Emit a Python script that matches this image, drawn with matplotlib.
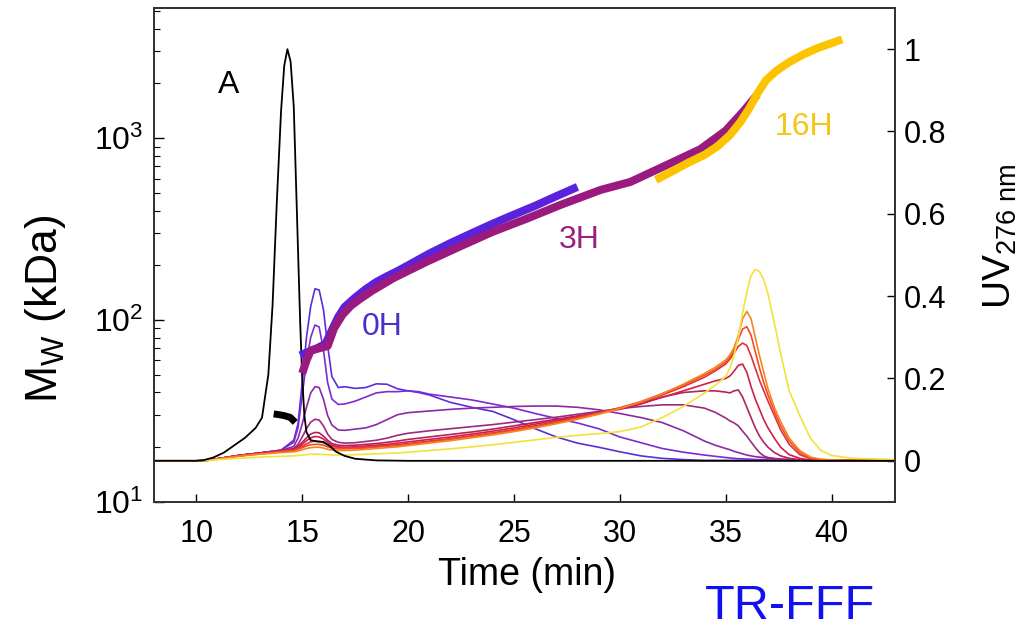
import matplotlib as mpl
mpl.use('Agg')
import matplotlib.pyplot as plt

plt.rcParams['font.family'] = ['Liberation Sans', 'DejaVu Sans']
plt.rcParams['mathtext.fontset'] = 'custom'
plt.rcParams['mathtext.rm'] = 'Liberation Sans'
plt.rcParams['mathtext.it'] = 'Liberation Sans'
plt.rcParams['mathtext.bf'] = 'Liberation Sans'

# ---- UV traces (normalised), common time grid (min)
t_uv = [8, 10, 10.5, 11, 12, 13, 14, 14.6, 14.8, 15.0, 15.2, 15.4, 15.6, 15.8, 16.0, 16.2, 16.4,
        16.7, 17.0, 17.5, 18.0, 18.5, 19.0, 19.5, 20.0, 20.5, 21, 22, 23, 24, 25, 26, 27, 28, 29,
        30, 31, 32, 33, 34, 34.5, 35.0, 35.2, 35.4, 35.6, 35.8, 36.0, 36.2, 36.4, 36.6, 36.8,
        37.0, 37.3, 37.6, 38.0, 38.5, 39, 39.5, 40, 41, 43]

uv_0h = [0, 0, 0.001, 0.005, 0.013, 0.019, 0.026, 0.05, 0.09, 0.19, 0.30, 0.375, 0.418, 0.415, 0.368, 0.28, 0.205,
         0.178, 0.18, 0.176, 0.178, 0.187, 0.186, 0.175, 0.17, 0.166, 0.16, 0.142, 0.13, 0.12, 0.10, 0.078, 0.058, 0.043, 0.033,
         0.022, 0.012, 0.006, 0.003, 0.001, 0.001, 0.001, 0.001, 0.001, 0.001, 0.001, 0.001, 0.001, 0.001, 0.001, 0.001,
         0.001, 0.001, 0.001, 0.001, 0.001, 0.001, 0.001, 0.001, 0.001, 0.001]
uv_1 = [0, 0, 0.001, 0.005, 0.013, 0.019, 0.026, 0.045, 0.08, 0.16, 0.24, 0.30, 0.33, 0.325, 0.27, 0.19, 0.15,
        0.137, 0.138, 0.145, 0.155, 0.165, 0.168, 0.168, 0.17, 0.168, 0.162, 0.155, 0.148, 0.138, 0.128, 0.115, 0.103, 0.092, 0.078,
        0.058, 0.044, 0.03, 0.021, 0.014, 0.011, 0.008, 0.007, 0.006, 0.005, 0.005, 0.004, 0.004, 0.003, 0.003, 0.003,
        0.002, 0.002, 0.002, 0.001, 0.001, 0.001, 0.001, 0.001, 0.001, 0.001]
uv_2 = [0, 0, 0.001, 0.005, 0.013, 0.019, 0.025, 0.035, 0.055, 0.09, 0.13, 0.165, 0.18, 0.178, 0.15, 0.11, 0.087,
        0.075, 0.074, 0.077, 0.08, 0.088, 0.10, 0.112, 0.117, 0.119, 0.121, 0.125, 0.128, 0.13, 0.132, 0.133, 0.133, 0.13, 0.124,
        0.115, 0.105, 0.093, 0.073, 0.048, 0.038, 0.03, 0.027, 0.023, 0.02, 0.017, 0.014, 0.012, 0.01, 0.009, 0.008,
        0.006, 0.005, 0.004, 0.003, 0.002, 0.001, 0.001, 0.001, 0.001, 0.001]
uv_3h = [0, 0, 0.001, 0.005, 0.013, 0.019, 0.025, 0.03, 0.04, 0.058, 0.078, 0.094, 0.101, 0.099, 0.085, 0.065, 0.052,
         0.045, 0.043, 0.044, 0.047, 0.05, 0.055, 0.062, 0.067, 0.07, 0.073, 0.078, 0.083, 0.088, 0.094, 0.10, 0.106, 0.113, 0.12,
         0.127, 0.132, 0.136, 0.136, 0.128, 0.118, 0.104, 0.097, 0.092, 0.085, 0.072, 0.06, 0.046, 0.032, 0.02, 0.012,
         0.008, 0.006, 0.004, 0.003, 0.002, 0.001, 0.001, 0.001, 0.001, 0.001]
uv_4 = [0, 0, 0.001, 0.005, 0.013, 0.019, 0.024, 0.028, 0.035, 0.045, 0.056, 0.065, 0.069, 0.068, 0.06, 0.05, 0.042,
        0.038, 0.037, 0.038, 0.04, 0.042, 0.045, 0.048, 0.052, 0.055, 0.058, 0.064, 0.07, 0.077, 0.085, 0.093, 0.101, 0.109, 0.117,
        0.125, 0.138, 0.155, 0.166, 0.17, 0.17, 0.167, 0.165, 0.17, 0.172, 0.155, 0.13, 0.105, 0.08, 0.06, 0.045,
        0.033, 0.02, 0.012, 0.006, 0.003, 0.001, 0.001, 0.001, 0.001, 0.001]
uv_5 = [0, 0, 0.001, 0.005, 0.012, 0.018, 0.024, 0.027, 0.032, 0.04, 0.049, 0.056, 0.059, 0.058, 0.053, 0.045, 0.038,
        0.034, 0.033, 0.034, 0.036, 0.038, 0.04, 0.043, 0.046, 0.049, 0.052, 0.058, 0.065, 0.072, 0.08, 0.089, 0.098, 0.107, 0.117,
        0.128, 0.14, 0.154, 0.17, 0.186, 0.194, 0.20, 0.206, 0.218, 0.232, 0.235, 0.215, 0.18, 0.15, 0.125, 0.10,
        0.08, 0.055, 0.033, 0.015, 0.006, 0.002, 0.001, 0.001, 0.001, 0.001]
uv_6 = [0, 0, 0.001, 0.005, 0.012, 0.018, 0.023, 0.026, 0.03, 0.035, 0.041, 0.046, 0.048, 0.047, 0.044, 0.039, 0.035,
        0.032, 0.031, 0.032, 0.033, 0.035, 0.037, 0.039, 0.042, 0.045, 0.048, 0.054, 0.061, 0.068, 0.076, 0.085, 0.095, 0.105, 0.116,
        0.128, 0.142, 0.16, 0.18, 0.203, 0.218, 0.235, 0.247, 0.262, 0.278, 0.286, 0.28, 0.255, 0.225, 0.195, 0.17,
        0.145, 0.11, 0.075, 0.04, 0.015, 0.005, 0.002, 0.001, 0.001, 0.001]
uv_7 = [0, 0, 0.001, 0.005, 0.012, 0.017, 0.022, 0.025, 0.028, 0.032, 0.036, 0.039, 0.04, 0.04, 0.038, 0.034, 0.031,
        0.029, 0.029, 0.03, 0.031, 0.033, 0.035, 0.037, 0.04, 0.043, 0.046, 0.052, 0.059, 0.066, 0.074, 0.083, 0.093, 0.104, 0.116,
        0.129, 0.144, 0.163, 0.184, 0.208, 0.222, 0.24, 0.252, 0.27, 0.295, 0.32, 0.326, 0.305, 0.265, 0.225, 0.19,
        0.16, 0.12, 0.085, 0.048, 0.02, 0.007, 0.003, 0.002, 0.001, 0.001]
uv_8 = [0, 0, 0.001, 0.004, 0.011, 0.016, 0.02, 0.022, 0.024, 0.027, 0.03, 0.032, 0.033, 0.033, 0.031, 0.028, 0.026,
        0.025, 0.025, 0.026, 0.028, 0.03, 0.032, 0.034, 0.037, 0.04, 0.043, 0.049, 0.056, 0.063, 0.071, 0.08, 0.09, 0.101, 0.113,
        0.127, 0.143, 0.163, 0.186, 0.212, 0.227, 0.245, 0.257, 0.275, 0.305, 0.345, 0.363, 0.345, 0.30, 0.255, 0.215,
        0.175, 0.13, 0.095, 0.055, 0.025, 0.009, 0.004, 0.002, 0.001, 0.001]
uv_16h = [0, 0, 0, 0.003, 0.006, 0.009, 0.011, 0.012, 0.013, 0.014, 0.015, 0.016, 0.016, 0.016, 0.015, 0.015, 0.014,
          0.014, 0.014, 0.015, 0.016, 0.017, 0.018, 0.019, 0.021, 0.023, 0.025, 0.029, 0.034, 0.039, 0.045, 0.051, 0.057, 0.062, 0.066,
          0.071, 0.082, 0.105, 0.132, 0.165, 0.183, 0.205, 0.225, 0.258, 0.30, 0.36, 0.41, 0.45, 0.465, 0.46, 0.44,
          0.405, 0.335, 0.26, 0.17, 0.11, 0.055, 0.025, 0.013, 0.006, 0.003]

uv_series = [uv_0h, uv_1, uv_2, uv_3h, uv_4, uv_5, uv_6, uv_7, uv_8, uv_16h]
uv_colors = ['#5a2fd8', '#7b2bd2', '#8c2aa6', '#9c2a82', '#b3215e', '#cf1f48', '#e4303a',
             '#f04c28', '#f7841f', '#f2e23a']

# ---- sample A (black)
t_a = [8, 10, 10.3, 10.8, 11.3, 11.8, 12.3, 12.8, 13.1, 13.4, 13.6, 13.8, 14.0, 14.15, 14.3, 14.45,
       14.6, 14.75, 14.9, 15.0, 15.1, 15.2, 15.4, 15.7, 16.0, 16.3, 16.6, 17.0, 17.5, 18.5, 20, 43]
uv_a = [0, 0, 0.001, 0.008, 0.02, 0.038, 0.056, 0.08, 0.105, 0.21, 0.38, 0.63, 0.85, 0.96, 1.0, 0.97,
        0.86, 0.60, 0.34, 0.20, 0.11, 0.07, 0.05, 0.047, 0.046, 0.036, 0.022, 0.012, 0.005, 0.001, 0, 0]
t_mw_a = [13.65, 13.9, 14.12, 14.43, 14.67]
mw_a = [30.5, 30.2, 29.9, 29.2, 27.4]

# ---- molar mass (kDa)
t_mw_0h = [14.9, 15.3, 15.7, 16.1, 16.4, 16.7, 17.0, 17.5, 18.0, 18.5, 19.0, 19.5, 20, 21, 22, 23, 24, 25, 26, 27, 28]
mw_0h = [64, 67, 70, 74, 88, 104, 118, 133, 148, 162, 174, 186, 200, 232, 265, 300, 339, 380, 425, 480, 540]
t_mw_3h = [15.0, 15.2, 15.4, 15.8, 16.2, 16.5, 16.9, 17.3, 17.7, 18.3, 19.3, 20.9, 22.45, 24.0, 25.6, 27.2,
           29.1, 30.5, 32.2, 33.8, 35.0, 35.8, 36.5]
mw_3h = [51, 60, 68, 70, 72, 90, 107, 120, 130, 145, 170, 210, 254, 306, 361, 430, 520, 575, 711, 870, 1100, 1390, 1740]
t_mw_16h = [31.7, 32.5, 33.3, 34.0, 34.6, 35.2, 35.7, 36.1, 36.5, 36.9, 37.4, 38.0, 38.7, 39.4, 40.0, 40.5]
mw_16h = [590, 660, 740, 810, 900, 1040, 1230, 1450, 1760, 2080, 2350, 2620, 2900, 3150, 3330, 3500]

fig = plt.figure(figsize=(10.29, 6.30), dpi=100)
ax = fig.add_axes([0.1497, 0.2032, 0.7201, 0.7841])
ax2 = ax.twinx()

for vals, c in zip(uv_series, uv_colors):
    ax2.plot(t_uv, vals, color=c, lw=1.2)
ax2.plot(t_a, uv_a, color='black', lw=1.3)
ax2.set_ylim(-0.1, 1.1)
ax2.set_yticks([0, 0.2, 0.4, 0.6, 0.8, 1])
ax2.set_yticklabels(['0', '0.2', '0.4', '0.6', '0.8', '1'])

ax.plot(t_mw_0h, mw_0h, color='#5a22dc', lw=5.8, solid_capstyle='butt')
ax.plot(t_mw_3h, mw_3h, color='#9a1a80', lw=5.8, solid_capstyle='butt')
ax.plot(t_mw_16h, mw_16h, color='#fcc400', lw=5.8, solid_capstyle='butt')
ax.plot(t_mw_a, mw_a, color='black', lw=5, solid_capstyle='butt')
ax.set_yscale('log')
ax.set_ylim(10, 5200)
ax.set_xlim(8, 43)
ax.set_xticks([10, 15, 20, 25, 30, 35, 40])
ax.set_zorder(ax2.get_zorder() + 1)
ax.patch.set_visible(False)

for a in (ax, ax2):
    for s in a.spines.values():
        s.set_color('#333333')
        s.set_linewidth(1.3)
ax.tick_params(axis='x', direction='in', length=6, width=1, pad=12, labelsize=22)
ax.tick_params(axis='y', which='major', direction='in', length=7, width=1, pad=8, labelsize=23)
ax.tick_params(axis='y', which='minor', direction='in', length=4, width=0.8)
ax2.tick_params(axis='y', direction='in', length=6, width=1, pad=6, labelsize=22)

ax.text(11.5, 1970, 'A', fontsize=23, color='black', ha='center', va='center')
ax.text(18.8, 92, '0H', fontsize=23, color='#4b2fc8', ha='center', va='center')
ax.text(28.1, 277, '3H', fontsize=23, color='#9b2080', ha='center', va='center')
ax.text(38.7, 1150, '16H', fontsize=23, color='#f5c518', ha='center', va='center')

fig.text(0.5125, 0.087, 'Time (min)', fontsize=27, ha='center', va='center')
fig.text(0.044, 0.51, r'M$_\mathrm{W}$ (kDa)', fontsize=32, rotation=90, ha='center', va='center')
fig.text(0.972, 0.625, r'UV$_{\mathrm{276\ nm}}$', fontsize=28, rotation=90, ha='center', va='center')
fig.text(0.768, 0.037, 'TR-FFF', fontsize=35, color='#1010f0', ha='center', va='center')

fig.savefig('out.png', dpi=100)
